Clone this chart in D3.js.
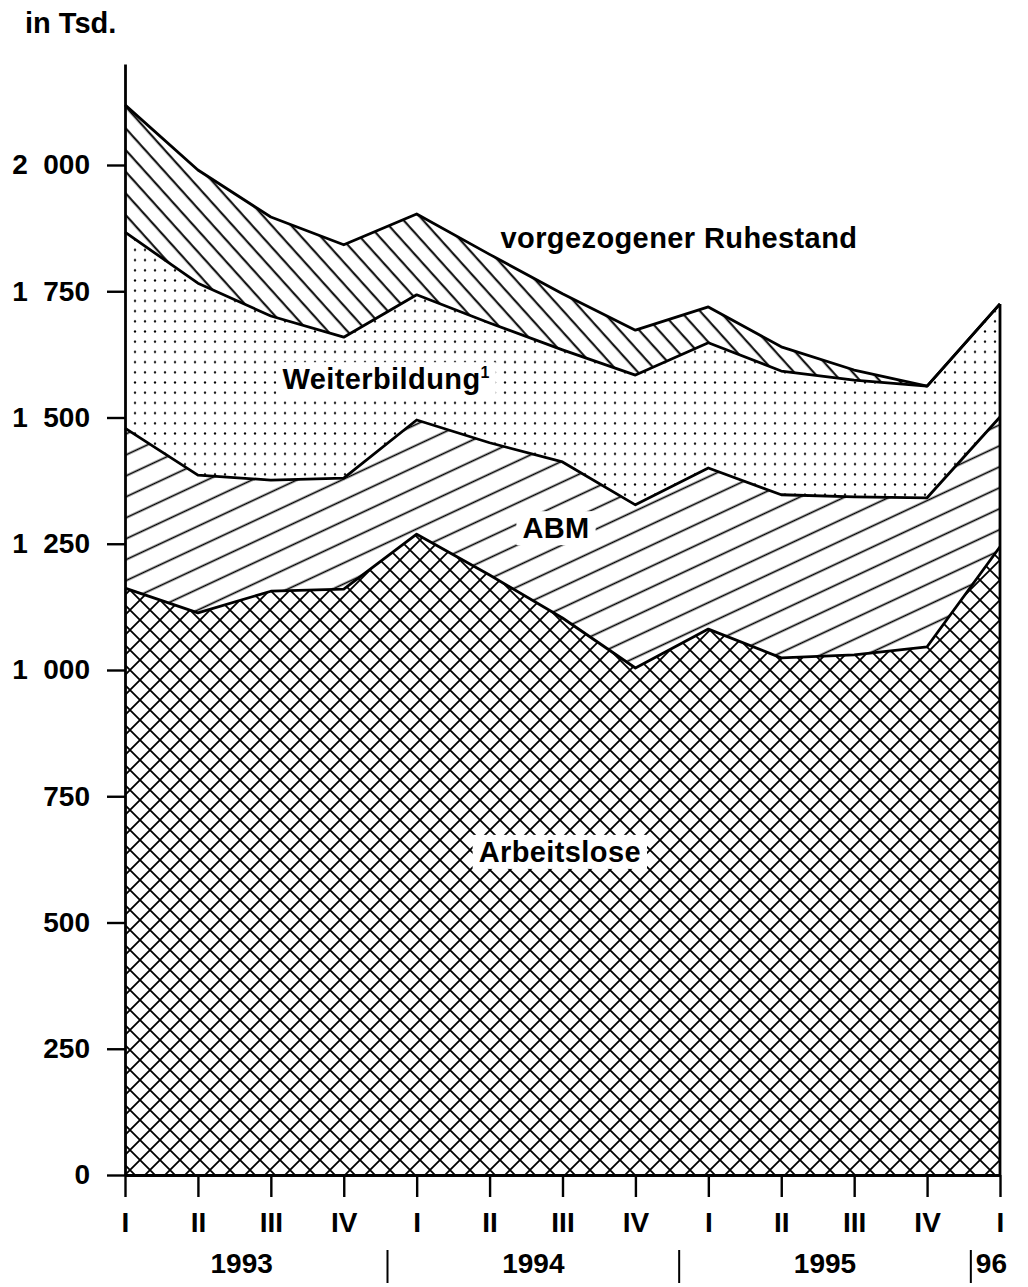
<!DOCTYPE html>
<html>
<head>
<meta charset="utf-8">
<script src="https://cdn.jsdelivr.net/npm/d3@7"></script>
<style>
  body { margin: 0; background: #fff; }
  svg text { font-family: "Liberation Sans", Arial, sans-serif; font-weight: bold; fill: #000; }
</style>
</head>
<body>
<figure id="chart" style="margin:0"></figure>
<script>
// quarterly values, in thousands
var quarters = ["I", "II", "III", "IV", "I", "II", "III", "IV", "I", "II", "III", "IV", "I"];
var years = ["1993", "1994", "1995", "96"];
var arbeitslose   = [1162, 1113, 1156, 1160, 1269, 1188, 1103, 1004, 1081, 1024, 1030, 1046, 1244];
var abm           = [317, 273, 220, 220, 226, 262, 309, 323, 319, 323, 313, 295, 257];
var weiterbildung = [388, 380, 325, 279, 248, 237, 222, 257, 248, 245, 231, 221, 224];
var ruhestand     = [252, 224, 196, 183, 160, 136, 111, 89, 71, 48, 20, 0, 0];
var yTicks = [0, 250, 500, 750, 1000, 1250, 1500, 1750, 2000];

var keys = ["arbeitslose", "abm", "weiterbildung", "ruhestand"];
var data = quarters.map(function(q, i) {
  return {i: i, arbeitslose: arbeitslose[i], abm: abm[i],
          weiterbildung: weiterbildung[i], ruhestand: ruhestand[i]};
});

var width = 1028, height = 1287;

var svg = d3.select("figure#chart")
  .append("svg")
    .attr("width", width)
    .attr("height", height);

var x = d3.scaleLinear().domain([0, 12]).range([125, 1000]);
var y = d3.scaleLinear().domain([0, 2200]).range([1175, 64]);

// fill patterns
var defs = svg.append("defs");

defs.append("pattern")
    .attr("id", "p-cross")
    .attr("patternUnits", "userSpaceOnUse")
    .attr("width", 20).attr("height", 20)
  .append("path")
    .attr("d", "M-5,-5L25,25M25,-5L-5,25")
    .attr("stroke", "#000").attr("stroke-width", 1.8);

defs.append("pattern")
    .attr("id", "p-abm")
    .attr("patternUnits", "userSpaceOnUse")
    .attr("width", 20).attr("height", 19)
    .attr("patternTransform", "rotate(-25)")
  .append("path")
    .attr("d", "M-2,9.5H22")
    .attr("stroke", "#000").attr("stroke-width", 1.7);

var dots = defs.append("pattern")
    .attr("id", "p-dots")
    .attr("patternUnits", "userSpaceOnUse")
    .attr("width", 10).attr("height", 10.2);
dots.append("circle")
    .attr("cx", 5).attr("cy", 5).attr("r", 1.15)
    .attr("fill", "#000");

defs.append("pattern")
    .attr("id", "p-ruhe")
    .attr("patternUnits", "userSpaceOnUse")
    .attr("width", 20).attr("height", 14.5)
    .attr("patternTransform", "rotate(48)")
  .append("path")
    .attr("d", "M-2,7H22")
    .attr("stroke", "#000").attr("stroke-width", 2);

var fills = {arbeitslose: "url(#p-cross)", abm: "url(#p-abm)",
             weiterbildung: "url(#p-dots)", ruhestand: "url(#p-ruhe)"};

var series = d3.stack().keys(keys)(data);

var area = d3.area()
  .x(function(d) { return x(d.data.i); })
  .y0(function(d) { return y(d[0]); })
  .y1(function(d) { return y(d[1]); });

svg.append("g")
  .selectAll("path")
  .data(series)
  .join("path")
    .attr("fill", function(s) { return fills[s.key]; })
    .attr("stroke", "none")
    .attr("d", area);

// boundary lines on top of each layer
var topLine = d3.line()
  .x(function(d) { return x(d.data.i); })
  .y(function(d) { return y(d[1]); });

svg.append("g")
  .selectAll("path")
  .data(series)
  .join("path")
    .attr("fill", "none")
    .attr("stroke", "#000")
    .attr("stroke-width", 2.8)
    .attr("stroke-linejoin", "round")
    .attr("d", topLine);

// right edge of the stack
var last = series[series.length - 1][12];
svg.append("line")
  .attr("x1", x(12)).attr("x2", x(12))
  .attr("y1", y(last[1])).attr("y2", y(0))
  .attr("stroke", "#000").attr("stroke-width", 2.8);

// labels inside the areas (white box behind)
function label(txt, xi, yv, boxed, sup) {
  var g = svg.append("g");
  var t = g.append("text")
    .attr("x", x(xi)).attr("y", y(yv))
    .style("font-size", "29px")
    .style("letter-spacing", "0.4px")
    .text(txt);
  if (sup) {
    t.append("tspan").attr("dy", -11).style("font-size", "16px").text(sup);
  }
  if (boxed) {
    var b = t.node().getBBox();
    g.insert("rect", "text")
      .attr("x", b.x - 6).attr("y", b.y - 1)
      .attr("width", b.width + 12).attr("height", b.height + 2)
      .attr("fill", "#fff");
  }
}
label("vorgezogener  Ruhestand", 5.15, 1836, false);
label("Weiterbildung", 2.16, 1556, true, "1");
label("ABM", 5.45, 1261, true);
label("Arbeitslose", 4.85, 620, true);

// y axis
var yAxis = svg.append("g")
  .attr("transform", "translate(" + x(0) + ",0)")
  .call(d3.axisLeft(y)
    .tickValues(yTicks)
    .tickSize(18)
    .tickSizeOuter(0)
    .tickPadding(17)
    .tickFormat(function(d) { return d >= 1000 ? d3.format(",")(d).replace(",", "\u2007") : d; }));
yAxis.select(".domain").attr("stroke-width", 2.8);
yAxis.selectAll(".tick line").attr("stroke-width", 2.4);
yAxis.selectAll(".tick text")
  .style("font-size", "28px")
  .style("font-family", "'Liberation Sans', Arial, sans-serif");

// x axis
var xAxis = svg.append("g")
  .attr("transform", "translate(0," + y(0) + ")")
  .call(d3.axisBottom(x)
    .tickValues(d3.range(quarters.length))
    .tickSize(22)
    .tickSizeOuter(0)
    .tickPadding(15)
    .tickFormat(function(d) { return quarters[d]; }));
xAxis.select(".domain").attr("stroke-width", 2.8);
xAxis.selectAll(".tick line").attr("stroke-width", 2.4);
xAxis.selectAll(".tick text")
  .style("font-size", "28px")
  .style("font-family", "'Liberation Sans', Arial, sans-serif");

// year row
var yearRow = svg.append("g");
[0, 1, 2].forEach(function(k) {
  yearRow.append("text")
    .attr("x", x(k * 4 + 1.6)).attr("y", 1273)
    .attr("text-anchor", "middle")
    .style("font-size", "28px")
    .text(years[k]);
  yearRow.append("line")
    .attr("x1", x(k * 4 + 3.6)).attr("x2", x(k * 4 + 3.6))
    .attr("y1", 1250).attr("y2", 1283)
    .attr("stroke", "#000").attr("stroke-width", 2);
});
yearRow.append("text")
  .attr("x", x(11.6) + 5).attr("y", 1273)
  .style("font-size", "28px")
  .text(years[3]);

// unit
svg.append("text")
  .attr("x", 25).attr("y", 33)
  .style("font-size", "29px")
  .text("in Tsd.");
</script>
</body>
</html>
